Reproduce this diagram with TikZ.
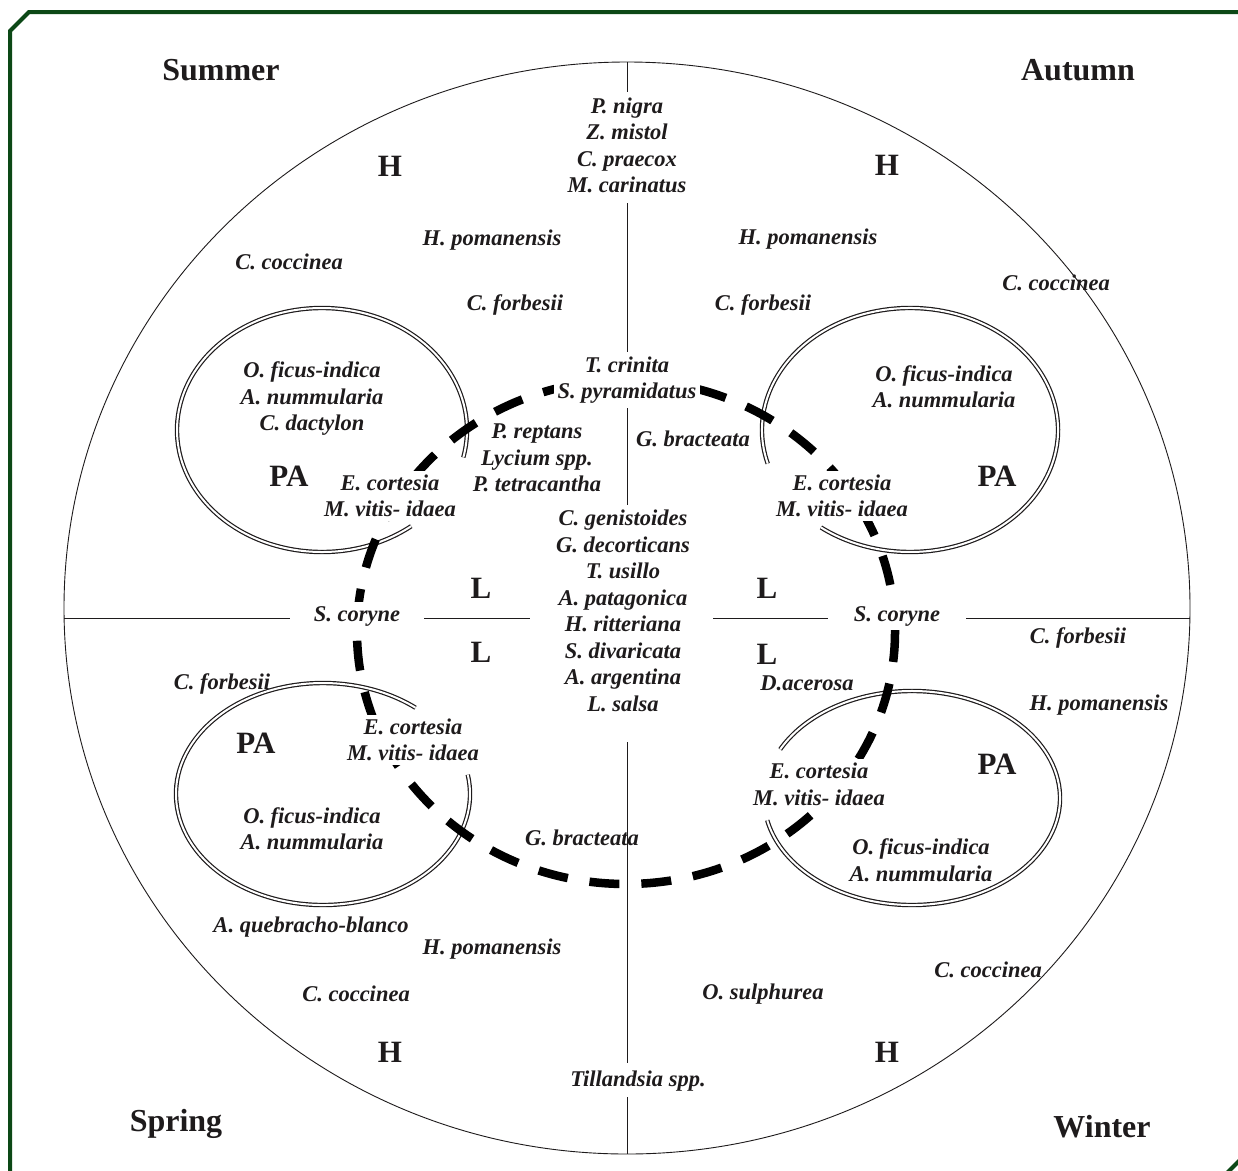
\documentclass[tikz,border=0pt]{standalone}
\usepackage{fontspec}
\setmainfont{Liberation Serif}
\definecolor{ink}{RGB}{30,27,28}
\definecolor{framegreen}{RGB}{12,72,22}
\begin{document}
\begin{tikzpicture}[x=1pt,y=-1pt,
  sp/.style={font=\fontsize{22.5}{26.5}\selectfont\bfseries\itshape, text=ink, align=center, inner sep=1pt},
  spw/.style={sp, fill=white, inner sep=4pt},
  bigl/.style={font=\fontsize{31}{36}\selectfont\bfseries, text=ink, inner sep=1pt},
  season/.style={font=\fontsize{32}{36}\selectfont\bfseries, text=ink, inner sep=1pt},
  dbl/.style={draw=ink, double=white, line width=1.2pt, double distance=2pt},
  ringline/.style={draw=black, line width=8.5pt, dash pattern=on 30pt off 22pt},
  axisline/.style={draw=ink, line width=0.9pt},
  bigcircle/.style={draw=ink, line width=0.9pt}
]
\useasboundingbox (0,0) rectangle (1238,1170);
\clip (0,0) rectangle (1238,1170);
\fill[white] (0,0) rectangle (1238,1170);
% frame
\draw[framegreen, line width=4pt] (1250,12) -- (29,12) -- (10,31) -- (10,1185);
\draw[framegreen, line width=4pt] (1246,1154) -- (1222,1178);
% big circle
\draw[bigcircle] (627,608) ellipse [x radius=563, y radius=546];
% cross lines
\coordinate (hl1) at (64,618);  \coordinate (hl2) at (290,618);
\coordinate (hl3) at (424,618); \coordinate (hl4) at (530,618);
\coordinate (hl5) at (713,618); \coordinate (hl6) at (828,618);
\coordinate (hl7) at (966,618); \coordinate (hl8) at (1190,618);
\draw[axisline] (hl1) -- (hl2) (hl3) -- (hl4) (hl5) -- (hl6) (hl7) -- (hl8);
\coordinate (vl1) at (627,62);   \coordinate (vl2) at (627,92);
\coordinate (vl3) at (627,203);  \coordinate (vl4) at (627,352);
\coordinate (vl5) at (627,408);  \coordinate (vl6) at (627,505);
\coordinate (vl7) at (627,742);  \coordinate (vl8) at (627,1063);
\coordinate (vl9) at (627,1097); \coordinate (vl10) at (627,1154);
\draw[axisline] (vl1) -- (vl2) (vl3) -- (vl4) (vl5) -- (vl6) (vl7) -- (vl8) (vl9) -- (vl10);
% PA ellipses (double lines, open where the ring enters)
\draw[dbl] (322,430) ++(52:145 and 122) arc[start angle=52, end angle=373, x radius=145, y radius=122];
\draw[dbl] (910,430) ++(164:148 and 122) arc[start angle=164, end angle=487, x radius=148, y radius=122];
\draw[dbl] (323,794) ++(-10:147 and 111) arc[start angle=-10, end angle=309, x radius=147, y radius=111];
\draw[dbl] (912,798) ++(207:148 and 107) arc[start angle=207, end angle=528, x radius=148, y radius=107];
% dashed ring
\draw[ringline] (626,632) ellipse [x radius=269, y radius=252];
% seasons
\node[season] (summer) at (221,70) {Summer};
\node[season] (autumn) at (1078,70) {Autumn};
\node[season] (spring) at (176,1124) {Spring};
\node[season] (winter) at (1102,1127) {Winter};
% H, PA, L
\node[bigl] (h1) at (390,166) {H};
\node[bigl] (h2) at (887,165) {H};
\node[bigl] (h3) at (390,1052) {H};
\node[bigl] (h4) at (887,1052) {H};
\node[bigl] (pa1) at (289,476) {PA};
\node[bigl] (pa2) at (997,476) {PA};
\node[bigl] (pa3) at (256,743) {PA};
\node[bigl] (pa4) at (997,764) {PA};
\node[bigl] (l1) at (481,588) {L};
\node[bigl] (l2) at (767,588) {L};
\node[bigl] (l3) at (481,652) {L};
\node[bigl] (l4) at (767,654) {L};
% species
\node[sp] (topc) at (627,145.5) {P. nigra\\Z. mistol\\C. praecox\\M. carinatus};
\node[sp] (hpom1) at (492,240) {H. pomanensis};
\node[sp] (hpom2) at (808,239) {H. pomanensis};
\node[sp] (ccoc1) at (289,262) {C. coccinea};
\node[sp] (ccoc2) at (1056,283) {C. coccinea};
\node[sp] (cfor1) at (515,305) {C. forbesii};
\node[sp] (cfor2) at (763,305) {C. forbesii};
\node[spw] (tcrin) at (627,380) {T. crinita\\S. pyramidatus};
\node[sp] (tlin) at (312,398.5) {O. ficus-indica\\A. nummularia\\C. dactylon};
\node[sp] (prep) at (537,458) {P. reptans\\Lycium spp.\\P. tetracantha};
\node[sp] (gbr1) at (693,439) {G. bracteata};
\node[spw] (ecor1) at (390,496) {E. cortesia\\M. vitis- idaea};
\node[spw] (ecor2) at (842,496) {E. cortesia\\M. vitis- idaea};
\node[sp] (trin) at (944,386.5) {O. ficus-indica\\A. nummularia};
\node[sp] (cent) at (623,611) {C. genistoides\\G. decorticans\\T. usillo\\A. patagonica\\H. ritteriana\\S. divaricata\\A. argentina\\L. salsa};
\node[spw] (scor1) at (357,616) {S. coryne};
\node[spw] (scor2) at (897,616) {S. coryne};
\node[sp] (cfor3) at (1078,638) {C. forbesii};
\node[sp] (cfor4) at (222,684) {C. forbesii};
\node[sp] (dace) at (807,683) {D.acerosa};
\node[sp] (hpom3) at (1099,705) {H. pomanensis};
\node[spw] (ecor3) at (413,740) {E. cortesia\\M. vitis- idaea};
\node[spw] (ecor4) at (819,784.5) {E. cortesia\\M. vitis- idaea};
\node[sp] (blin) at (312,828.5) {O. ficus-indica\\A. nummularia};
\node[sp] (gbr2) at (582,838) {G. bracteata};
\node[sp] (brin) at (921,860) {O. ficus-indica\\A. nummularia};
\node[sp] (aqb) at (311,927) {A. quebracho-blanco};
\node[sp] (hpom4) at (492,949) {H. pomanensis};
\node[sp] (ccoc3) at (356,994) {C. coccinea};
\node[sp] (osul) at (763,994) {O. sulphurea};
\node[sp] (ccoc4) at (988,970) {C. coccinea};
\node[sp] (till) at (638,1081) {Tillandsia spp.};
\end{tikzpicture}
\end{document}
